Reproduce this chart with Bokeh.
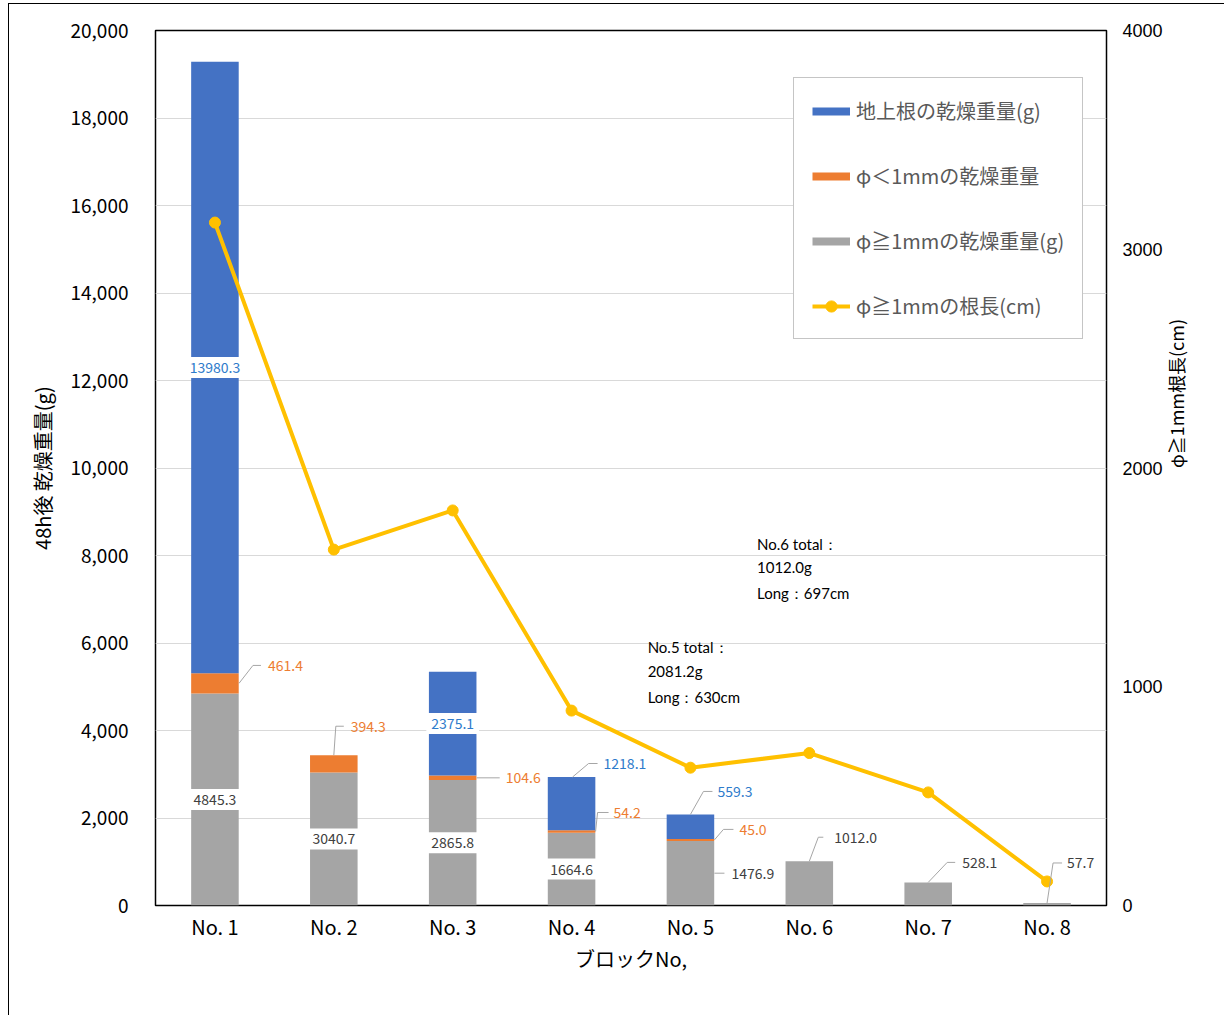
import math
from bokeh.plotting import figure
from bokeh.models import (FactorRange, Range1d, LinearAxis, FixedTicker, NumeralTickFormatter,
                          Legend, LegendItem, Label, ColumnDataSource)
from bokeh.core.properties import value
from bokeh.embed import file_html
from bokeh.resources import INLINE

# ---------------- data ----------------
blocks = ["No. 1", "No. 2", "No. 3", "No. 4", "No. 5", "No. 6", "No. 7", "No. 8"]
thick_dry = [4845.3, 3040.7, 2865.8, 1664.6, 1476.9, 1012.0, 528.1, 57.7]   # φ≧1mm 乾燥重量(g)
thin_dry = [461.4, 394.3, 104.6, 54.2, 45.0, 0.0, 0.0, 0.0]              # φ<1mm 乾燥重量
above_dry = [13980.3, 0.0, 2375.1, 1218.1, 559.3, 0.0, 0.0, 0.0]         # 地上根 乾燥重量(g)
root_len = [3122, 1627, 1806, 891, 630, 697, 517, 110]                    # φ≧1mm 根長(cm)
left_ticks = [0, 2000, 4000, 6000, 8000, 10000, 12000, 14000, 16000, 18000, 20000]
right_ticks = [0, 1000, 2000, 3000, 4000]
notes = [
    (5.06, 8274, "No.6 total："), (5.06, 7726, "1012.0g"), (5.06, 7154, "Long：697cm"),
    (4.14, 5920, "No.5 total："), (4.14, 5349, "2081.2g"), (4.14, 4777, "Long：630cm"),
]

# ---------------- style ----------------
BLUE, ORANGE, GRAY, GOLD = "#4472C4", "#ED7D31", "#A5A5A5", "#FFC000"
LBL_COL = {"thick": "#404040", "thin": "#ED7D31", "above": "#2E7BCB"}
JP = "Noto Sans CJK JP"
FRAME_W, FRAME_H = 951, 875
YMAX, Y2MAX = 20000, 4000
PX_X = FRAME_W / len(blocks)      # pixels per category unit
PX_Y = YMAX / FRAME_H             # left-axis units per pixel

p = figure(x_range=FactorRange(*blocks), y_range=Range1d(0, YMAX),
           width=1216, height=1012, title=None,
           min_border_left=146, min_border_right=119, min_border_top=26, min_border_bottom=111,
           output_backend="svg", toolbar_location=None, tools="")
p.styles = {"border-left": "1px solid black", "border-top": "1px solid black"}
p.margin = (3, 0, 0, 8)
p.extra_y_ranges = {"right": Range1d(0, Y2MAX)}
p.outline_line_color = "black"
p.outline_line_width = 1.5
p.background_fill_color = "white"
p.border_fill_color = "white"

src = ColumnDataSource(dict(x=blocks, thick=thick_dry, thin=thin_dry, above=above_dry))
p.vbar_stack(["thick", "thin", "above"], x="x", width=0.4, source=src,
             color=[GRAY, ORANGE, BLUE], line_color=None)

lr = p.line(blocks, root_len, line_color=GOLD, line_width=4, y_range_name="right")
sr = p.scatter(blocks, root_len, size=11, color=GOLD, y_range_name="right")

# segment helpers
series = {"thick": thick_dry, "thin": thin_dry, "above": above_dry}
def seg(name, i):
    bottom = {"thick": 0, "thin": thick_dry[i], "above": thick_dry[i] + thin_dry[i]}[name]
    return bottom, bottom + series[name][i]

# labels inside bars (white box)
inside = [("above", 0), ("thick", 0), ("thick", 1), ("thick", 2), ("above", 2), ("thick", 3)]
for name, i in inside:
    b, t = seg(name, i)
    p.add_layout(Label(x=i + 0.5, y=(b + t) / 2, text=f"{series[name][i]:.1f}",
                       text_align="center", text_baseline="middle",
                       text_font=JP, text_font_size="14px", text_color=LBL_COL[name],
                       background_fill_color="white", padding=5))

# labels with leader lines: (series, idx, anchor, anchor_dx, elbow_dx, elbow_dy, end_dx, text_dx) in px
leaders = [
    ("thin", 0, "mid", 24, 14, -18, 22, 29),
    ("thin", 1, "top", 0, 2, -29, 10, 17),
    ("thin", 2, "mid", 24, 0, 0, 23, 29),
    ("above", 3, "top", 1, 16, -13.5, 25, 31),
    ("thin", 3, "mid", 24, 2, -19, 13, 18),
    ("above", 4, "top", 0, 13, -23, 22, 27),
    ("thin", 4, "mid", 24, 9, -10.5, 19, 25),
    ("thick", 4, "mid", 24, 0, 0, 10, 17),
    ("thick", 5, "top", 0, 9, -24, 14, 25),
    ("thick", 6, "top", 0, 19, -20, 27, 34),
    ("thick", 7, "top", 0, 6, -40, 15, 20),
]
xs, ys, tx, ty, tt, tc = [], [], [], [], [], []
for name, i, anc, adx, edx, edy, endx, tdx in leaders:
    b, t = seg(name, i)
    ay = (b + t) / 2 if anc == "mid" else t
    cx = i + 0.5
    ax = cx + adx / PX_X
    ex = ax + edx / PX_X
    ey = ay - edy * PX_Y
    xs.append([ax, ex, ax + endx / PX_X])
    ys.append([ay, ey, ey])
    tx.append(ax + tdx / PX_X)
    ty.append(ey)
    tt.append(f"{series[name][i]:.1f}")
    tc.append(LBL_COL[name])
p.multi_line(xs, ys, line_color="#A6A6A6", line_width=1)
p.text(x=tx, y=ty, text=tt, text_color=tc, text_align="left", text_baseline="middle",
       text_font=value(JP), text_font_size="14px")

for x, y, s in notes:
    p.add_layout(Label(x=x, y=y, text=s, text_align="left", text_baseline="middle",
                       text_font="Lato", text_font_size="15px", text_color="black"))

# axes
ya = p.yaxis[0]
ya.ticker = FixedTicker(ticks=left_ticks)
ya.formatter = NumeralTickFormatter(format="0,0")
ya.axis_label = "48h後 乾燥重量(g)"
for ax_ in (ya, p.xaxis[0]):
    ax_.axis_line_color = None
    ax_.major_tick_line_color = None
    ax_.minor_tick_line_color = None
    ax_.major_label_text_font = JP
    ax_.major_label_text_font_size = "19px"
    ax_.major_label_text_color = "black"
    ax_.axis_label_text_font = JP
    ax_.axis_label_text_font_size = "20px"
    ax_.axis_label_text_font_style = "normal"
    ax_.axis_label_text_color = "black"
ya.major_label_standoff = 21
ya.axis_label_standoff = 10
xa = p.xaxis[0]
xa.axis_label = "ブロックNo,"
xa.major_label_standoff = 0
xa.axis_label_standoff = 0
xa.major_label_text_font_size = "20px"

ra = LinearAxis(y_range_name="right", ticker=FixedTicker(ticks=right_ticks))
ra.axis_line_color = None
ra.major_tick_line_color = None
ra.minor_tick_line_color = None
ra.major_label_text_font = "Liberation Sans"
ra.major_label_text_font_size = "18px"
ra.major_label_text_color = "black"
ra.major_label_standoff = 10
p.add_layout(ra, "right")

# second right axis carrying only the title (reads bottom-to-top); bounds shift its anchor
ra2 = LinearAxis(y_range_name="right", ticker=FixedTicker(ticks=[]),
                 bounds=(0, 3291), axis_label="φ≧1mm根長(cm)")
ra2.axis_line_color = None
ra2.major_tick_line_color = None
ra2.minor_tick_line_color = None
ra2.axis_label_text_font = JP
ra2.axis_label_text_font_size = "18px"
ra2.axis_label_text_font_style = "normal"
ra2.axis_label_text_color = "black"
ra2.axis_label_standoff = 10
ra2.axis_label_orientation = math.pi / 2
p.add_layout(ra2, "right")

p.xgrid.grid_line_color = None
p.ygrid.ticker = FixedTicker(ticks=left_ticks)
p.ygrid.grid_line_color = "#D9D9D9"

# legend (proxies for bar swatches, not drawn in the plot area)
nan = float("nan")
pb = p.line(x=blocks[:2], y=[nan, nan], line_width=8, line_color=BLUE)
po = p.line(x=blocks[:2], y=[nan, nan], line_width=8, line_color=ORANGE)
pg = p.line(x=blocks[:2], y=[nan, nan], line_width=8, line_color=GRAY)
legend = Legend(items=[
    LegendItem(label="地上根の乾燥重量(g)", renderers=[pb]),
    LegendItem(label="φ＜1mmの乾燥重量", renderers=[po]),
    LegendItem(label="φ≧1mmの乾燥重量(g)", renderers=[pg]),
    LegendItem(label="φ≧1mmの根長(cm)", renderers=[lr, sr]),
], location=(638, 566), glyph_width=38, glyph_height=28, label_height=28,
    spacing=36, padding=18, margin=0, label_standoff=6,
    border_line_color="#8C8C8C", border_line_width=1,
    label_text_font=JP, label_text_font_size="20px", label_text_color="#595959",
    background_fill_color="white", background_fill_alpha=1)
p.add_layout(legend)

open("out.html", "w").write(file_html(p, INLINE))
